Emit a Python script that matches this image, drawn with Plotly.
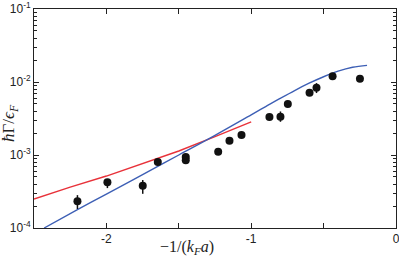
import plotly.graph_objects as go

# Data points (x = -1/(k_F a), y = hbar Gamma / eps_F)
data_x = [-2.200, -1.993, -1.749, -1.645, -1.452, -1.452, -1.228, -1.150, -1.067,
          -0.874, -0.798, -0.747, -0.597, -0.549, -0.438, -0.249]
data_y = [2.32e-4, 4.22e-4, 3.79e-4, 8.0e-4, 9.4e-4, 8.5e-4, 1.11e-3, 1.57e-3, 1.88e-3,
          3.32e-3, 3.35e-3, 5.0e-3, 7.13e-3, 8.36e-3, 1.20e-2, 1.11e-2]
err_plus = [0.5e-4, 0.35e-4, 0.75e-4, 0.3e-4, 0.3e-4, 0.3e-4, 0.3e-4, 0.3e-4, 0.3e-4,
            0.5e-4, 0.6e-3, 0.3e-4, 0.3e-4, 1.3e-3, 0.3e-4, 0.3e-4]
err_minus = [0.5e-4, 0.7e-4, 0.85e-4, 0.3e-4, 0.3e-4, 0.3e-4, 0.3e-4, 0.3e-4, 0.3e-4,
             0.5e-4, 0.5e-3, 0.3e-4, 0.3e-4, 1.3e-3, 0.3e-4, 0.3e-4]

# Red theory curve
red_x = [-2.5, -2.25, -2.0, -1.75, -1.5, -1.25, -1.0]
red_y = [2.49e-4, 3.63e-4, 5.15e-4, 7.62e-4, 1.135e-3, 1.787e-3, 2.85e-3]

# Blue theory curve
blue_x = [-2.43, -2.2, -2.0, -1.75, -1.5, -1.25, -1.0, -0.9, -0.8, -0.7, -0.6, -0.5,
          -0.4, -0.3, -0.2]
blue_y = [1.0e-4, 1.78e-4, 2.92e-4, 5.37e-4, 1.0e-3, 1.86e-3, 3.55e-3, 4.60e-3, 5.96e-3,
          7.64e-3, 9.62e-3, 1.18e-2, 1.406e-2, 1.592e-2, 1.69e-2]

x_tickvals = [-2.5, -2, -1.5, -1, -0.5, 0]
x_ticktext = [" ", "-2", " ", "-1", " ", "0"]
y_tickvals = [1e-4, 1e-3, 1e-2, 1e-1]
y_ticktext = ["10<sup>-4</sup>", "10<sup>-3</sup>", "10<sup>-2</sup>", "10<sup>-1</sup>"]
y_minor = [m * 10 ** e for e in (-4, -3, -2) for m in range(2, 10)]

fig = go.Figure()
fig.add_trace(go.Scatter(x=red_x, y=red_y, mode="lines",
                         line=dict(color="#e8323a", width=1.4), showlegend=False))
fig.add_trace(go.Scatter(x=blue_x, y=blue_y, mode="lines", line_shape="spline",
                         line=dict(color="#3d5fb5", width=1.4), showlegend=False))
fig.add_trace(go.Scatter(x=data_x, y=data_y, mode="markers",
                         marker=dict(color="#111111", size=8),
                         error_y=dict(type="data", symmetric=False, array=err_plus,
                                      arrayminus=err_minus, color="#111111",
                                      thickness=1.5, width=0),
                         showlegend=False))

axis_common = dict(showline=True, linecolor="#222222", linewidth=1, mirror="ticks",
                   ticks="inside", ticklen=5, tickcolor="#222222", showgrid=False,
                   zeroline=False, automargin=False, ticklabeloverflow="allow",
                   tickfont=dict(family="Liberation Sans", size=12, color="#222222"))

fig.update_xaxes(range=[-2.5, 0], tickmode="array", tickvals=x_tickvals, ticktext=x_ticktext,
                 **axis_common)
fig.update_yaxes(type="log", range=[-4, -1], tickmode="array", tickvals=y_tickvals,
                 ticktext=y_ticktext,
                 minor=dict(tickmode="array", tickvals=y_minor, ticks="inside", ticklen=3,
                            tickcolor="#222222", showgrid=False),
                 **axis_common)

fig.add_annotation(text="−1/(<i>k<sub>F</sub>a</i>)", xref="paper", yref="paper",
                   x=0.423, y=-0.088, xanchor="center", yanchor="middle", showarrow=False,
                   font=dict(family="Liberation Serif", size=16, color="#222222"))
fig.add_annotation(text="<i>ħ</i>Γ/<i>ϵ<sub>F</sub></i>", xref="paper", yref="paper",
                   x=-0.066, y=0.48, xanchor="center", yanchor="middle", textangle=-90,
                   showarrow=False,
                   font=dict(family="Liberation Serif", size=17, color="#222222"))

fig.update_layout(width=399, height=256, margin=dict(l=34, r=3, t=9, b=28),
                  plot_bgcolor="white", paper_bgcolor="white")

fig.write_html("out.html", config={"displayModeBar": False},
               post_script="document.body.style.margin='0';document.body.style.overflow='hidden';")
